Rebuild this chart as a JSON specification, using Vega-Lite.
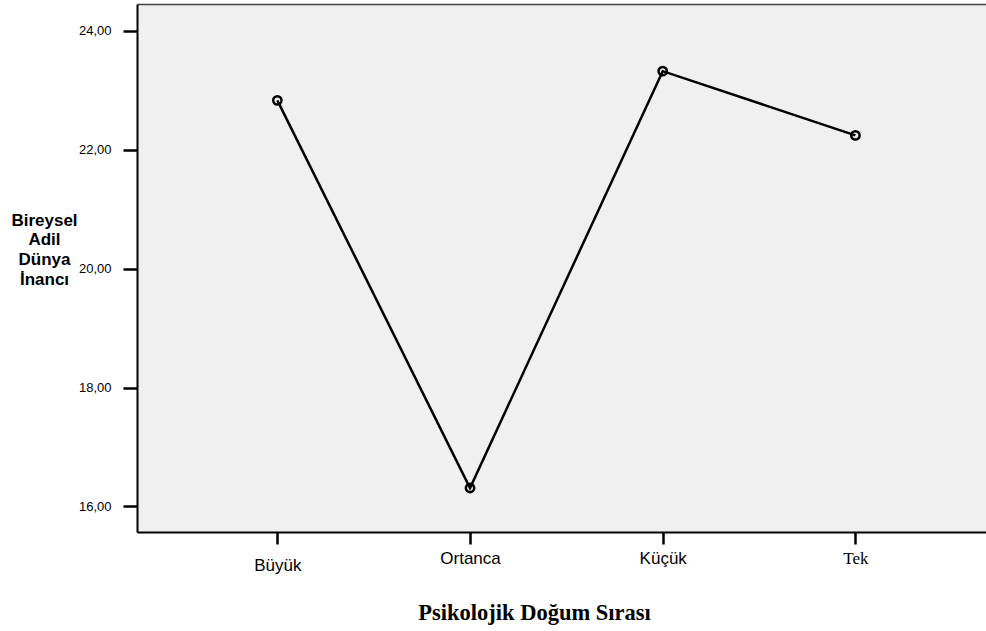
{
  "$schema": "https://vega.github.io/schema/vega-lite/v6.json",
  "autosize": {"type": "none"},
  "padding": {"left": 137, "top": 4, "right": 0, "bottom": 99},
  "width": 849,
  "height": 528,
  "background": "white",
  "config": {"view": {"fill": "#f0f0f0", "stroke": null}},
  "data": {
    "values": [
      {"sira": "Büyük", "inanc": 22.83},
      {"sira": "Ortanca", "inanc": 16.31},
      {"sira": "Küçük", "inanc": 23.32},
      {"sira": "Tek", "inanc": 22.24}
    ]
  },
  "encoding": {
    "y": {
      "field": "inanc",
      "type": "quantitative",
      "scale": {"domain": [15.57, 24.45], "nice": false, "zero": false},
      "axis": {
        "values": [16, 18, 20, 22, 24],
        "labelExpr": "replace(format(datum.value, '.2f'), '.', ',')",
        "labelFont": "Liberation Sans",
        "labelFontSize": 13,
        "labelColor": "black",
        "labelPadding": 12,
        "tickSize": 14,
        "tickWidth": 2.5,
        "tickColor": "black",
        "domainColor": "black",
        "domainWidth": 2,
        "grid": false,
        "title": ["Bireysel", "Adil", "Dünya", "İnancı"],
        "titleAngle": 0,
        "titleFont": "Liberation Sans",
        "titleFontWeight": "bold",
        "titleFontSize": 17,
        "titleAlign": "center",
        "titleBaseline": "alphabetic",
        "titleX": -93,
        "titleY": 221,
        "titleLineHeight": 19.7,
        "titleColor": "black"
      }
    }
  },
  "layer": [
    {
      "mark": {"type": "line", "color": "black", "strokeWidth": 2.5},
      "encoding": {
        "x": {
          "field": "sira",
          "type": "nominal",
          "sort": null,
          "scale": {"type": "point", "padding": 0.703, "align": 0.518},
          "axis": {
            "orient": "bottom",
            "labelAngle": 0,
            "labelFont": {"condition": {"test": "datum.value === 'Tek'", "value": "Liberation Serif"}, "value": "Liberation Sans"},
            "labelFontSize": 17,
            "labelColor": "black",
            "labelBaseline": "alphabetic",
            "labelPadding": {"condition": {"test": "datum.value === 'Büyük'", "value": 26}, "value": 19},
            "tickSize": 12,
            "tickWidth": 2.5,
            "tickColor": "black",
            "domainColor": "black",
            "domainWidth": 2,
            "grid": false,
            "title": "Psikolojik Doğum Sırası",
            "titleFont": "Liberation Serif",
            "titleFontWeight": "bold",
            "titleFontSize": 22.5,
            "titleColor": "black",
            "titleX": 397,
            "titleY": 87,
            "titleAlign": "center",
            "titleBaseline": "alphabetic"
          }
        }
      }
    },
    {
      "mark": {"type": "point", "shape": "circle", "filled": false, "color": "black", "size": 70, "strokeWidth": 2.5, "opacity": 1},
      "encoding": {
        "x": {
          "field": "sira",
          "type": "nominal",
          "sort": null,
          "axis": {
            "orient": "top",
            "labels": false,
            "ticks": false,
            "grid": false,
            "title": null,
            "domainColor": "#444",
            "domainWidth": 1.5
          }
        }
      }
    }
  ],
  "resolve": {"axis": {"x": "independent"}}
}
